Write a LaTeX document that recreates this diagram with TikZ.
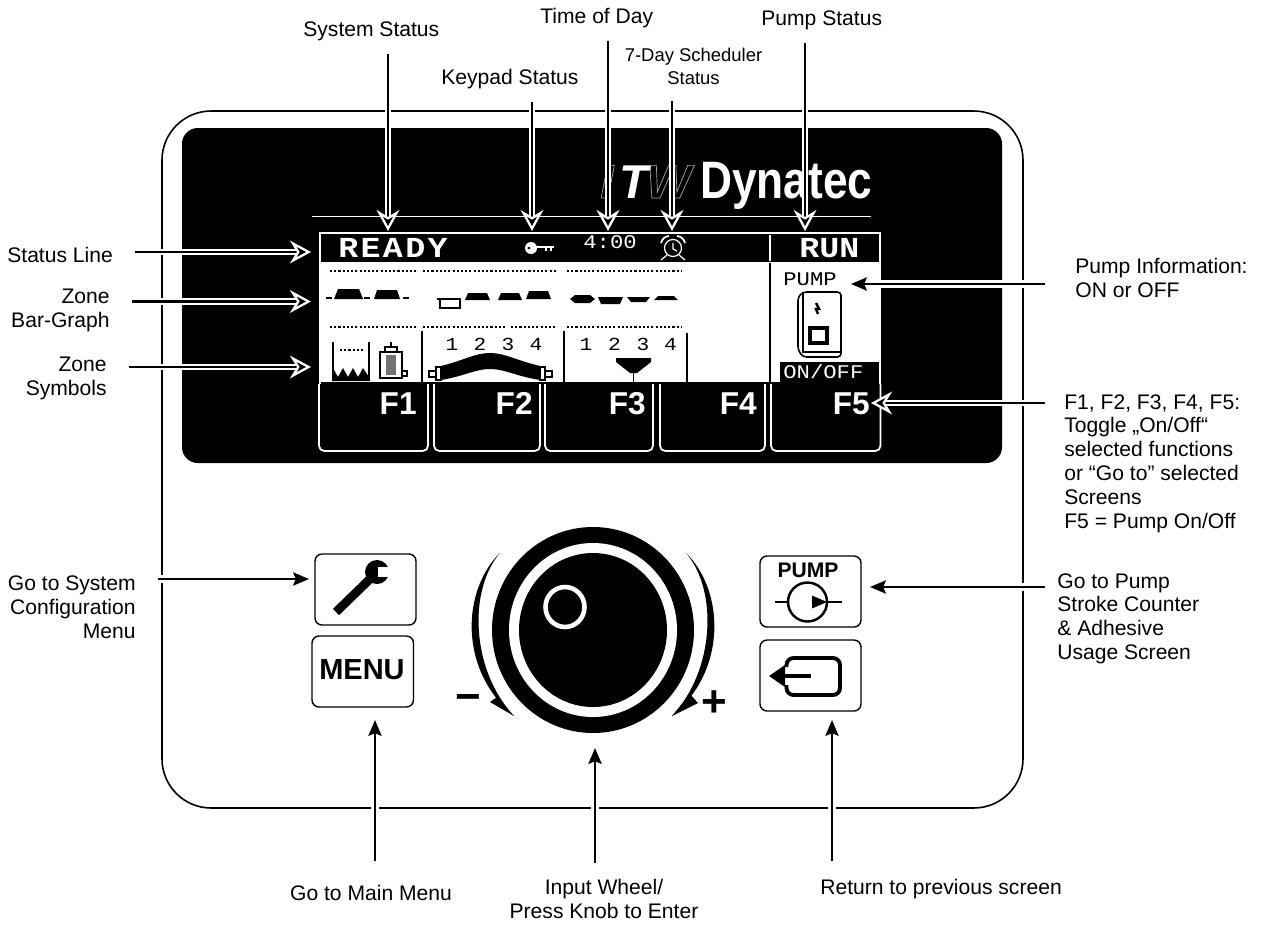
\documentclass[tikz,border=0pt]{standalone}
\usepackage{fontspec}
\setmainfont{Liberation Sans}
\newfontfamily\lcdfont[FakeStretch=1.15]{Liberation Mono}
\newfontfamily\logofont[FakeStretch=0.84]{Liberation Sans}
\newcommand{\hollow}[1]{\special{pdf:code 1 Tr 0.4 w}#1\special{pdf:code 0 Tr}}
\usetikzlibrary{arrows.meta,positioning}

\begin{document}
\begin{tikzpicture}[
  x=0.02cm, y=-0.02cm,
  lbl/.style={font=\fontsize{12}{13.6}\selectfont, inner sep=0pt, align=left},
  lblr/.style={lbl, align=right},
  lblc/.style={lbl, align=center},
  callout/.style={draw, line width=1.3pt,
                  preaction={draw=white, line width=3.8pt, arrows=-, shorten >=5pt},
                  -{Stealth[length=12pt, width=13pt, inset=4pt, fill=black, color=white, line width=1.3pt]}},
  pointer/.style={draw, line width=1.3pt,
                  preaction={draw=white, line width=4.4pt, arrows=-, shorten >=5pt},
                  -{Stealth[length=9pt, width=7.5pt, inset=1.5pt]}},
  lcdtext/.style={text=white, inner sep=0pt, font=\lcdfont\bfseries\fontsize{16.5}{18}\selectfont},
  lcdsmall/.style={inner sep=0pt, font=\lcdfont\fontsize{10.5}{12}\selectfont},
  logopart/.style={inner sep=0pt, anchor=base west, font=\bfseries\itshape\fontsize{27}{29}\selectfont},
  fkey/.style={draw=white, line width=1pt, fill=black, rounded corners=3pt},
  fname/.style={text=white, inner sep=0pt, font=\bfseries\fontsize{18}{20}\selectfont},
  lcddots/.style={draw, line width=1pt, dash pattern=on 1.2pt off 1.2pt},
  lcdline/.style={draw, line width=0.9pt},
  button/.style={draw, line width=0.8pt, rounded corners=4pt, fill=white}
]
  \useasboundingbox (0,0) rectangle (1261,924);

  % panel
  \draw[line width=0.9pt, rounded corners=28pt] (162,111) rectangle (1023,808);
  \fill[black, rounded corners=9pt] (182,128) rectangle (1002,463);

  % logo
  \node[logopart, text=gray!70] (logoi) at (600,198) {\hollow{I}};
  \node[logopart, text=white]   (logot) at (619,198) {T};
  \node[logopart, text=gray!70] (logow) at (646,198) {\hollow{W}};
  \node[text=white, inner sep=0pt, anchor=base west, font=\logofont\bfseries\fontsize{30}{32}\selectfont] (logo) at (700,198) {Dynatec};
  \draw[white, line width=0.7pt] (312,216.5) -- (871,216.5);

  % display
  \fill[white] (319,232) rectangle (881,384);
  \fill[black] (321,233.5) rectangle (879,262);
  \draw[fkey] (319,384) -- (319,451) -- (428,451) -- (428,384);
  \draw[fkey] (434,384) -- (434,451) -- (540,451) -- (540,384);
  \draw[fkey] (545,384) -- (545,451) -- (653,451) -- (653,384);
  \draw[fkey] (660,384) -- (660,451) -- (765,451) -- (765,384);
  \draw[fkey] (771,384) -- (771,451) -- (880.5,451) -- (880.5,384);
  \fill[black] (321,382) rectangle (879,384);
  \node[fname, anchor=east] (fone)   at (417,404) {F1};
  \node[fname, anchor=east] (ftwo)   at (533,403) {F2};
  \node[fname, anchor=east] (fthree) at (646,404) {F3};
  \node[fname, anchor=east] (ffour)  at (757,404) {F4};
  \node[fname, anchor=east] (ffive)  at (870,404) {F5};

  % status bar
  \node[lcdtext, anchor=west, font=\lcdfont\bfseries\addfontfeature{LetterSpace=8}\fontsize{16.5}{18}\selectfont] (ready) at (338,248) {READY};
  \node[lcdtext, anchor=west] (run)   at (799,248) {RUN};
  \node[lcdtext, anchor=west, font=\lcdfont\fontsize{11}{12}\selectfont] (clocktime) at (583,242) {4:00};
  \draw[white, line width=0.9pt] (770,235) -- (770,261);
  \fill[white] (531,248) circle (6);
  \fill[black] (529,248) circle (1.5);
  \draw[white, line width=1.6pt] (535,247) -- (554,247);
  \draw[white, line width=1pt] (546,248) -- (546,251) (551,248) -- (551,251);
  \draw[white, line width=0.7pt] (673,248) circle (8.5);
  \draw[white, line width=0.7pt] (673,243) -- (673,249) -- (677,251);
  \draw[white, line width=1pt] (661,243) to[bend left=35] (669,236);
  \draw[white, line width=1pt] (677,236) to[bend left=35] (685,243);
  \draw[white, line width=0.7pt] (667,255) -- (661,260) (679,255) -- (685,260);

  % zone rows
  \draw[lcddots] (330,271) -- (416,271);
  \draw[lcddots] (423,271) -- (556,271);
  \draw[lcddots] (567,271) -- (681,271);
  \draw[lcddots] (330,327) -- (416,327);
  \draw[lcddots] (423,327) -- (505,327);
  \draw[lcddots] (511,327) -- (556,327);
  \draw[lcddots] (567,327) -- (681,327);
  \draw[lcdline] (326,298) -- (332,298);
  \fill (334,299) -- (338,289) -- (359,289) -- (363,299) -- cycle;
  \draw[lcdline] (364,298) -- (370,298);
  \fill (374,299) -- (377,290) -- (397,290) -- (400,299) -- cycle;
  \draw[lcdline] (403,298) -- (409,298);
  \draw[lcdline] (437,299) -- (461,299) (440,299) rectangle (460,308);
  \fill (465,300) -- (468,293) -- (487,293) -- (490,300) -- cycle;
  \fill (498,300) -- (501,293) -- (519,293) -- (522,300) -- cycle;
  \fill (526,299) -- (529,291) -- (548,291) -- (551,299) -- cycle;
  \fill (570,299) -- (575,295) -- (590,295) -- (595,299) -- (590,303) -- (575,303) -- cycle;
  \fill (598,297) -- (623,297) -- (620,304) -- (601,304) -- cycle;
  \fill (627,297) -- (650,297) -- (646,302) -- (631,302) -- cycle;
  \fill (654,300) -- (658,296) -- (674,296) -- (678,300) -- cycle;
  \draw[lcdline] (422,331) -- (422,382);
  \draw[lcdline] (564,331) -- (564,382);
  \draw[lcdline] (687,333) -- (687,382);
  \draw[lcdline] (770,263) -- (770,382);

  % tank and filter
  \draw[lcdline] (333,342) -- (333,380) -- (369,380) -- (369,342);
  \fill (333,381) -- (333,368) -- (338,377) -- (343,368) -- (348,377) -- (353,368) -- (358,377) -- (363,368) -- (369,377) -- (369,381) -- cycle;
  \draw[lcddots] (340,350) -- (364,350);
  \draw[lcdline] (380,352) rectangle (402,378);
  \fill[black!55] (386,355) rectangle (396,375);
  \draw[lcdline] (385,352) -- (385,347) -- (397,347) -- (397,352) (391,347) -- (391,342);
  \draw[lcdline] (402,371) -- (407,371) -- (407,376) -- (402,376);

  % zone numbers
  \node[lcdsmall] (numa) at (452,344) {1};
  \node[lcdsmall] (numb) at (480,344) {2};
  \node[lcdsmall] (numc) at (508,344) {3};
  \node[lcdsmall] (numd) at (536,344) {4};
  \node[lcdsmall] (nume) at (586,344) {1};
  \node[lcdsmall] (numf) at (614.5,344) {2};
  \node[lcdsmall] (numg) at (643,344) {3};
  \node[lcdsmall] (numh) at (670.5,344) {4};

  % hose and manifold
  \fill (441,366) .. controls (465,360) and (475,353) .. (490,353) .. controls (505,353) and (515,360) .. (540,366)
    -- (540,380) .. controls (515,376) and (505,369) .. (490,369) .. controls (475,369) and (465,376) .. (441,380) -- cycle;
  \draw[lcdline, fill=white] (436,367) rectangle (441,380);
  \draw[lcdline, fill=white] (540,367) rectangle (545,380);
  \draw[line width=1.2pt] (429,371) rectangle (436,377);
  \draw[line width=1.2pt] (545,371) rectangle (552,377);
  \fill (616,358) -- (651,358) -- (651,362) -- (637,373) -- (630,373) -- (616,362) -- cycle;
  \draw[lcdline] (633.5,373) -- (633.5,382);

  % pump switch
  \node[lcdsmall, anchor=west, font=\lcdfont\fontsize{11}{13}\selectfont] (pumpscreen) at (783,279) {PUMP};
  \draw[lcdline, rounded corners=2pt] (798,297) -- (803,292) -- (841,292) -- (841,357) -- (803,357) -- (798,350) -- cycle;
  \draw[lcdline] (803,292) -- (803,352) -- (841,352);
  \draw[line width=1.4pt] (816,303) -- (819,309) -- (816,309) -- (818,314);
  \draw[line width=2pt] (810,328) rectangle (827,343);
  \fill (780,362) rectangle (878.5,382);
  \node[lcdsmall, anchor=west, text=white, font=\lcdfont\fontsize{11}{13}\selectfont] (onoff) at (783,372) {ON/OFF};

  % buttons
  \draw[button] (315,554) rectangle (416,625);
  \draw[button] (312,636) rectangle (413.5,707);
  \draw[button] (760,556) rectangle (861,627);
  \draw[button] (760,640) rectangle (861,711);
  \draw[line width=5pt] (336,612) -- (371,578);
  \fill (377,572) circle (12);
  \fill[white] (378,566.5) rectangle (392,577);
  \node[inner sep=0pt, font=\bfseries\fontsize{16.5}{18}\selectfont] (menu) at (362,670) {MENU};
  \node[inner sep=0pt, font=\bfseries\fontsize{12}{14}\selectfont] (pumpbtn) at (808,570) {PUMP};
  \draw[line width=1.4pt] (807.5,602) circle (19.5);
  \draw[line width=1.4pt] (775,602) -- (788,602) (827,602) -- (842,602);
  \fill (812,595.5) -- (827,602) -- (812,608.5) -- cycle;
  \draw[line width=2.2pt, rounded corners=4pt] (786.5,667) -- (786.5,658) -- (840,658) -- (840,695) -- (786.5,695) -- (786.5,685);
  \draw[line width=2.2pt] (783,676) -- (811,676);
  \fill (769,676) -- (785,665) -- (785,687) -- cycle;

  % wheel
  \fill (593,630) ellipse (101 and 103);
  \fill[white] (593,630) ellipse (84 and 87);
  \fill (593,630) ellipse (74 and 77);
  \draw[white, line width=2.6pt] (565,607) ellipse (19.5 and 20);
  \fill (500,553) .. controls (462,590) and (458,670) .. (514,716) .. controls (471,670) and (468,590) .. (500,553) -- cycle;
  \fill (686,553) .. controls (724,590) and (728,670) .. (672,716) .. controls (715,670) and (718,590) .. (686,553) -- cycle;
  \fill (514,716) -- (490,702) -- (497,697) -- cycle;
  \fill (672,716) -- (698,703) -- (690,694) -- cycle;
  \node[inner sep=0pt, font=\bfseries\fontsize{25}{27}\selectfont] (minus) at (468,703) {−};
  \node[inner sep=0pt, font=\bfseries\fontsize{25}{27}\selectfont] (plus) at (714,704) {+};

  % labels
  \node[lbl, anchor=west] (sysstat)  at (303,31)  {System Status};
  \node[lbl, anchor=west] (daytime)  at (540,18)  {Time of Day};
  \node[lbl, anchor=west] (pumpstat) at (761,20)  {Pump Status};
  \node[lbl, anchor=west] (keystat)  at (441,79)  {Keypad Status};
  \node[lblc, font=\fontsize{10.5}{13}\selectfont] (schedstat) at (693.5,66) {7-Day Scheduler\\Status};
  \node[lbl, anchor=west] (statline) at (7,255)   {Status Line};
  \node[lblr, anchor=east] (zonebar) at (110,310.5) {Zone\\Bar-Graph};
  \node[lblr, anchor=east] (zonesym) at (107,378.5) {Zone\\Symbols};
  \node[lblr, anchor=east] (gosys)   at (136,607.5) {Go to System\\Configuration\\Menu};
  \node[lbl, anchor=west, font=\fontsize{12}{14}\selectfont] (pumpinfo) at (1075,278) {Pump Information:\\ON or OFF};
  \node[lbl, anchor=north west] (fkeys) at (1064,394) {F1, F2, F3, F4, F5:\\Toggle „On/Off“\\selected functions\\or “Go to” selected\\Screens\\F5 = Pump On/Off};
  \node[lbl, anchor=north west] (gopump) at (1057,573) {Go to Pump\\Stroke Counter\\\& Adhesive\\Usage Screen};
  \node[lbl] (gomenu) at (371,893) {Go to Main Menu};
  \node[lblc] (gowheel) at (604,899) {Input Wheel/\\Press Knob to Enter};
  \node[lbl, anchor=west] (goback) at (820,889) {Return to previous screen};

  % connectors
  \coordinate (sysfrom)   at (388,54);    \coordinate (systo)   at (388,231);
  \coordinate (keyfrom)   at (532,102);   \coordinate (keyto)   at (532,231);
  \coordinate (dayfrom)   at (608,41);    \coordinate (dayto)   at (608,231);
  \coordinate (schedfrom) at (672,101);   \coordinate (schedto) at (672,231);
  \coordinate (pumpfrom)  at (805,43);    \coordinate (pumpto)  at (805,231);
  \coordinate (linefrom)  at (135,252);   \coordinate (lineto)  at (311,252);
  \coordinate (barfrom)   at (132,301.5); \coordinate (barto)   at (311,301.5);
  \coordinate (symfrom)   at (129,367);   \coordinate (symto)   at (311,367);
  \coordinate (ffrom)     at (1045,403);  \coordinate (fto)     at (871,403);
  \coordinate (infofrom)  at (1045,284);  \coordinate (infoto)  at (851,284);
  \coordinate (gosfrom)   at (158,579);   \coordinate (gosto)   at (309,579);
  \coordinate (gopfrom)   at (1045,587);  \coordinate (gopto)   at (870,587);
  \coordinate (menufrom)  at (375,861);   \coordinate (menuto)  at (375,720);
  \coordinate (wheelfrom) at (595,863);   \coordinate (wheelto) at (595,748);
  \coordinate (backfrom)  at (832,861);   \coordinate (backto)  at (832,720);
  \draw[callout] (sysfrom) -- (systo);
  \draw[callout] (keyfrom) -- (keyto);
  \draw[callout] (dayfrom) -- (dayto);
  \draw[callout] (schedfrom) -- (schedto);
  \draw[callout] (pumpfrom) -- (pumpto);
  \draw[callout] (linefrom) -- (lineto);
  \draw[callout] (barfrom) -- (barto);
  \draw[callout] (symfrom) -- (symto);
  \draw[callout] (ffrom) -- (fto);
  \draw[pointer] (infofrom) -- (infoto);
  \draw[pointer] (gosfrom) -- (gosto);
  \draw[pointer] (gopfrom) -- (gopto);
  \draw[pointer] (menufrom) -- (menuto);
  \draw[pointer] (wheelfrom) -- (wheelto);
  \draw[pointer] (backfrom) -- (backto);
\end{tikzpicture}
\end{document}
